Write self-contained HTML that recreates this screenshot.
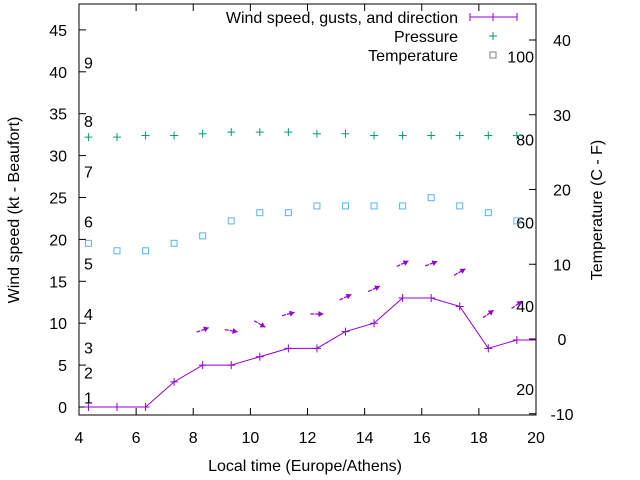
<!DOCTYPE html>
<html><head><meta charset="utf-8"><style>
body{margin:0;background:#fff}
svg{display:block;font-family:"Liberation Sans",sans-serif}
</style></head><body>
<svg id="c" width="640" height="480">
<g id="axes"></g>
<g id="marks"></g>
</svg>
<script>
const hours=[4.33,5.33,6.33,7.33,8.33,9.33,10.33,11.33,12.33,13.33,14.33,15.33,16.33,17.33,18.33,19.33];
const windKt=[0,0,0,3,5,5,6,7,7,9,10,13,13,12,7,8];
const pressure=[32.2,32.2,32.4,32.4,32.6,32.8,32.8,32.8,32.6,32.6,32.4,32.4,32.4,32.4,32.4,32.4];
const tempC=[12.8,11.8,11.8,12.8,13.8,15.8,16.9,16.9,17.8,17.8,17.8,17.8,18.9,17.8,16.9,15.8];
const arrowHours=[8.33,9.33,10.33,11.33,12.33,13.33,14.33,15.33,16.33,17.33,18.33,19.33];
const arrowKt=[9.2,9.1,9.9,11.1,11.1,13.1,14.1,17.1,17.1,16.1,11.1,12.2];
const arrowDeg=[20,-10,-30,15,0,25,25,25,20,30,35,35];
const xTicks=[4,6,8,10,12,14,16,18,20];
const yTicks=[0,5,10,15,20,25,30,35,40,45];
const y2Ticks=[-10,0,10,20,30,40];
const beaufortKt=[1,4,7,11,17,22,28,34,41];
const beaufortLabels=["1","2","3","4","5","6","7","8","9"];
const fahrLabels=[20,40,60,80,100];

const L=79,R=536,T=4,B=415;
const FS=16;
const X=h=>L+(h-4)*(R-L)/16;
const Y=v=>407-v*8.38;
const Y2=c=>339-c*7.475;
const NS="http://www.w3.org/2000/svg";
const ax=document.getElementById('axes'), mk=document.getElementById('marks');
function el(p,tag,attrs,txt){const e=document.createElementNS(NS,tag);for(const k in attrs)e.setAttribute(k,attrs[k]);if(txt!==undefined)e.textContent=txt;p.appendChild(e);return e;}

let f=el(ax,'rect',{x:L,y:T,width:R-L,height:B-T,fill:'none',stroke:'#000','stroke-width':1});


xTicks.forEach(t=>{
  const x=X(t);
  let a=el(ax,'path',{d:`M${x},${B}v-7M${x},${T}v7`,stroke:'#000'});
  
  
  let tx=el(ax,'text',{x:x,y:443,'font-size':FS,'text-anchor':'middle'},t);
  
  
});
yTicks.forEach(t=>{
  const y=Y(t);
  let a=el(ax,'path',{d:`M${L},${y}h7`,stroke:'#000'});
  
  
  let tx=el(ax,'text',{x:67,y:y+6,'font-size':FS,'text-anchor':'end'},t);
  
  
});
y2Ticks.forEach(t=>{
  const y=Y2(t);
  let a=el(ax,'path',{d:`M${R},${y}h-7`,stroke:'#000'});
  
  
  let tx=el(ax,'text',{x:562,y:y+6,'font-size':FS,'text-anchor':'middle'},t);
  
  
});
beaufortKt.forEach((k,i)=>{
  let tx=el(ax,'text',{x:84,y:Y(k)+5,'font-size':FS},beaufortLabels[i]);
  
  
});
fahrLabels.forEach(fv=>{
  let tx=el(ax,'text',{x:534,y:Y2((fv-32)*5/9)+6,'font-size':FS,'text-anchor':'end'},fv);
  
  
});
let xt=el(ax,'text',{x:305,y:471,'font-size':FS,'text-anchor':'middle'},'Local time (Europe/Athens)');


let yt=el(ax,'text',{x:0,y:0,'font-size':FS,'text-anchor':'middle',transform:'translate(19,210) rotate(-90)'},'Wind speed (kt - Beaufort)');


let y2t=el(ax,'text',{x:0,y:0,'font-size':FS,'text-anchor':'middle',transform:'translate(602,210) rotate(-90)'},'Temperature (C - F)');



let pts=hours.map((h,i)=>`${X(h)},${Y(windKt[i])}`);
pts.push(`${X(20)},${Y(windKt[windKt.length-1])}`);
let wl=el(mk,'polyline',{points:pts.join(' '),fill:'none',stroke:'#9400d3','stroke-width':1});


hours.forEach((h,i)=>{
  const x=X(h),y=Y(windKt[i]);
  let p=el(mk,'path',{d:`M${x-4},${y}h8M${x},${y-4}v8`,stroke:'#9400d3'});
  
  
  let q=el(mk,'path',{d:`M${x-4},${Y(pressure[i])}h8M${x},${Y(pressure[i])-4}v8`,stroke:'#009e73'});
  
  
  const ty=Y2(tempC[i]);
  let s=el(mk,'rect',{x:x-3,y:ty-3,width:6,height:6,fill:'none',stroke:'#56b4e9'});
  
  
});
arrowHours.forEach((h,i)=>{
  const cx=X(h),cy=Y(arrowKt[i]),a=arrowDeg[i]*Math.PI/180,len=13;
  const dx=Math.cos(a)*len/2,dy=-Math.sin(a)*len/2;
  const x1=cx-dx,y1=cy-dy,x2=cx+dx,y2=cy+dy;
  const ux=Math.cos(a),uy=-Math.sin(a);
  const hx=x2-ux*5,hy=y2-uy*5;
  let g=el(mk,'g',{});
  
  
  el(g,'line',{x1,y1,x2,y2,stroke:'#9400d3','stroke-width':1.2,'stroke-dasharray':'4,1'});
  el(g,'polygon',{points:`${x2},${y2} ${hx-uy*3},${hy+ux*3} ${hx+uy*3},${hy-ux*3}`,fill:'#9400d3'});
});
const lg=el(mk,'g',{});


[['Wind speed, gusts, and direction',17],['Pressure',36],['Temperature',55]].forEach(([t,y],i)=>{
  let tx=el(lg,'text',{x:458,y:y+6,'font-size':FS,'text-anchor':'end'},t);
  
  
  if(i==0){el(lg,'path',{d:`M470,${y}h47M470,${y-4}v8M517,${y-4}v8M489,${y}h8M493,${y-4}v8`,stroke:'#9400d3'});}
  if(i==1){el(lg,'path',{d:`M489,${y}h8M493,${y-4}v8`,stroke:'#009e73'});}
  if(i==2){el(lg,'rect',{x:490,y:y-3,width:6,height:6,fill:'none',stroke:'#808080'});}
});
</script>
</body></html>
